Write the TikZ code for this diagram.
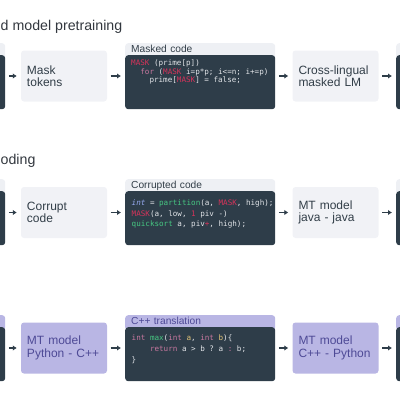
\documentclass[tikz,border=0pt]{standalone}
\usepackage{fontspec}
\setmainfont{Liberation Sans}
\setmonofont{DejaVu Sans Mono}
\usepackage{xcolor}
\usetikzlibrary{shapes, arrows.meta, positioning}

\definecolor{codebg}{RGB}{46,61,73}
\definecolor{lightbox}{RGB}{241,242,246}
\definecolor{tablight}{RGB}{238,240,244}
\definecolor{purplebox}{RGB}{185,182,228}
\definecolor{purpletext}{RGB}{78,74,150}
\definecolor{textdark}{RGB}{50,62,72}
\definecolor{titlegray}{RGB}{50,55,62}
\definecolor{arrowc}{RGB}{46,61,73}
\definecolor{codefg}{RGB}{225,228,232}
\definecolor{maskred}{RGB}{214,51,90}
\definecolor{codegreen}{RGB}{70,200,130}
\definecolor{codeblue}{RGB}{150,170,240}
\definecolor{codepink}{RGB}{200,120,160}
\definecolor{codeyellow}{RGB}{225,195,120}

\newcommand{\ind}[1]{\hspace*{\dimexpr #1\fontcharwd\font`\x\relax}}

\begin{document}
\begin{tikzpicture}[x=1pt, y=-1pt,
    stepbox/.style={fill=lightbox, rounded corners=3pt, minimum width=86pt, minimum height=51pt,
        text width=74pt, inner xsep=6pt, align=left, font=\fontsize{12}{12.5}\selectfont, text=textdark},
    mtbox/.style={stepbox, fill=purplebox, text=purpletext},
    codetab/.style={fill=tablight, rounded corners=3pt, anchor=north west, minimum width=150pt,
        text width=138pt, inner xsep=6pt, inner ysep=0pt, text height=9.5pt, text depth=5.5pt,
        align=left, font=\fontsize{10.2}{10}\selectfont, text=textdark},
    purpletab/.style={codetab, fill=purplebox, text=purpletext},
    codebody/.style={fill=codebg, rounded corners=3pt, anchor=north west, minimum width=150pt, minimum height=54pt},
    code/.style={anchor=base west, inner sep=0pt, text=codefg},
    arr/.style={-{Latex[length=4pt,width=5.5pt]}, line width=1.1pt, draw=arrowc, shorten <=3.5pt, shorten >=4pt},
    title/.style={anchor=base west, inner sep=0pt, font=\fontsize{14.2}{15}\selectfont, text=titlegray}]
    \useasboundingbox (0,0) rectangle (400,400);
    \clip (0,0) rectangle (400,400);

    % row 1
    \node[title] (titleA) at (0.5,30.5) {d model pretraining};
    \node[codetab] (ltabA) at (-145,43) {};
    \node[codebody] (lbodyA) at (-145,55) {};
    \node[stepbox] (mask) at (64,76) {Mask\\tokens};
    \node[codetab] (mctab) at (125,43) {Masked code};
    \node[codebody] (mcbody) at (125,55) {};
    \node[code, font=\fontsize{7.6}{8.5}\selectfont\ttfamily] (mccode) at (131,65.8) {
        \begin{tabular}[t]{@{}l@{}}
            \textcolor{maskred}{MASK} (prime[p]) \\
            \ind{2}\textcolor{codepink}{for} (\textcolor{maskred}{MASK} i=p*p; i<=n; i+=p) \\
            \ind{4}prime[\textcolor{maskred}{MASK}] = false;
        \end{tabular}
    };
    \node[stepbox] (xlm) at (335.5,76) {Cross-lingual\\masked LM};
    \node[codetab] (rtabA) at (396,43) {};
    \node[codebody] (rbodyA) at (396,55) {};
    \draw[arr] (lbodyA.east |- mask.west) -- (mask.west);
    \draw[arr] (mask.east) -- (mask.east -| mcbody.west);
    \draw[arr] (xlm.west -| mcbody.east) -- (xlm.west);
    \draw[arr] (xlm.east) -- (xlm.east -| rbodyA.west);

    % row 2
    \node[title] (titleB) at (0.5,164.5) {oding};
    \node[codetab] (ltabB) at (-145,179) {};
    \node[codebody] (lbodyB) at (-145,191) {};
    \node[stepbox] (corrupt) at (64,212.5) {Corrupt\\code};
    \node[codetab] (cctab) at (125,179) {Corrupted code};
    \node[codebody] (ccbody) at (125,191) {};
    \node[code, font=\fontsize{7.6}{10.5}\selectfont\ttfamily] (cccode) at (131.5,205.8) {
        \begin{tabular}[t]{@{}l@{}}
            \textcolor{codeblue}{\itshape int} = \textcolor{codegreen}{partition}(a, \textcolor{maskred}{MASK}, high); \\
            \textcolor{maskred}{MASK}(a, low, \textcolor{maskred}{1} piv -) \\
            \textcolor{codegreen}{quicksort} a, piv\textcolor{maskred}{+}, high);
        \end{tabular}
    };
    \node[stepbox] (mtjava) at (335.5,212.5) {MT model\\java - java};
    \node[codetab] (rtabB) at (396,179) {};
    \node[codebody] (rbodyB) at (396,191) {};
    \draw[arr] (lbodyB.east |- corrupt.west) -- (corrupt.west);
    \draw[arr] (corrupt.east) -- (corrupt.east -| ccbody.west);
    \draw[arr] (mtjava.west -| ccbody.east) -- (mtjava.west);
    \draw[arr] (mtjava.east) -- (mtjava.east -| rbodyB.west);

    % row 3
    \node[purpletab] (ltabC) at (-145,315) {};
    \node[codebody] (lbodyC) at (-145,327) {};
    \node[mtbox] (pycpp) at (64,348) {MT model\\Python - C++};
    \node[purpletab] (cpptab) at (125,315) {C++ translation};
    \node[codebody] (cppbody) at (125,327) {};
    \node[code, font=\fontsize{7.6}{11}\selectfont\ttfamily] (cppcode) at (131.5,340.2) {
        \begin{tabular}[t]{@{}l@{}}
            \textcolor{codepink}{int} \textcolor{codegreen}{max}(\textcolor{codepink}{int} \textcolor{codeyellow}{a}, \textcolor{codepink}{int} \textcolor{codeyellow}{b})\{ \\
            \ind{4}\textcolor{codepink}{return} a > b ? a \textcolor{codepink}{:} b; \\
            \}
        \end{tabular}
    };
    \node[mtbox] (cpppy) at (335.5,348) {MT model\\C++ - Python};
    \node[purpletab] (rtabC) at (396,315) {};
    \node[codebody] (rbodyC) at (396,327) {};
    \draw[arr] (lbodyC.east |- pycpp.west) -- (pycpp.west);
    \draw[arr] (pycpp.east) -- (pycpp.east -| cppbody.west);
    \draw[arr] (cpppy.west -| cppbody.east) -- (cpppy.west);
    \draw[arr] (cpppy.east) -- (cpppy.east -| rbodyC.west);
\end{tikzpicture}
\end{document}
